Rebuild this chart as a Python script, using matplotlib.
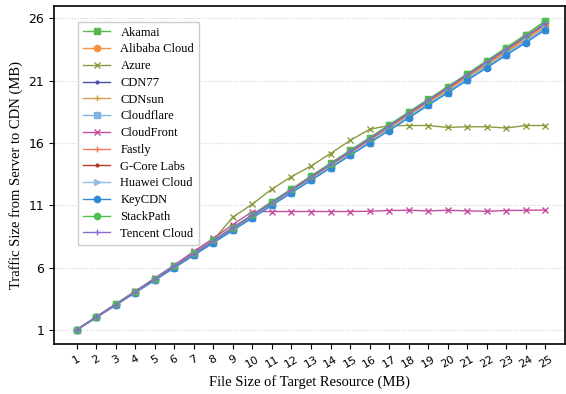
import matplotlib
matplotlib.use("Agg")
import matplotlib.pyplot as plt

file_size = list(range(1, 26))

# values (MB)
akamai = [1.0, 2.02, 3.05, 4.08, 5.1, 6.12, 7.15, 8.2, 9.22, 10.25, 11.3, 12.3, 13.35, 14.37,
          15.4, 16.42, 17.45, 18.48, 19.5, 20.52, 21.55, 22.6, 23.65, 24.7, 25.8]
alibaba = [1.0, 2.0, 3.0, 4.02, 5.03, 6.05, 7.05, 8.08, 9.1, 10.1, 11.12, 12.15, 13.15, 14.17,
           15.2, 16.2, 17.22, 18.25, 19.25, 20.28, 21.3, 22.3, 23.32, 24.35, 25.35]
azure = [1.0, 2.02, 3.05, 4.08, 5.1, 6.12, 7.15, 8.2, 10.05, 11.1, 12.3, 13.3, 14.15, 15.15,
         16.2, 17.1, 17.4, 17.4, 17.4, 17.25, 17.3, 17.3, 17.2, 17.4, 17.4]
cdn77 = [1.0, 2.0, 3.0, 4.0, 5.0, 6.0, 7.0, 8.0, 9.0, 10.02, 11.02, 12.05, 13.05, 14.05,
         15.07, 16.07, 17.08, 18.1, 19.1, 20.1, 21.12, 22.12, 23.15, 24.15, 25.2]
cdnsun = [1.0, 2.0, 3.0, 4.0, 5.02, 6.02, 7.03, 8.05, 9.05, 10.07, 11.08, 12.1, 13.1, 14.12,
          15.13, 16.15, 17.15, 18.18, 19.2, 20.2, 21.22, 22.25, 23.25, 24.28, 25.3]
cloudflare = [1.0, 2.0, 3.0, 4.0, 5.0, 6.0, 7.0, 8.0, 9.0, 10.0, 11.0, 12.02, 13.02, 14.03,
              15.03, 16.03, 17.05, 18.05, 19.05, 20.05, 21.07, 22.07, 23.08, 24.08, 25.1]
cloudfront = [1.0, 2.05, 3.08, 4.1, 5.15, 6.2, 7.3, 8.35, 9.45, 10.5, 10.5, 10.5, 10.5, 10.5,
              10.5, 10.52, 10.58, 10.6, 10.55, 10.6, 10.55, 10.52, 10.58, 10.6, 10.62]
fastly = [1.0, 2.0, 3.02, 4.03, 5.05, 6.07, 7.08, 8.1, 9.12, 10.15, 11.18, 12.2, 13.22, 14.25,
          15.27, 16.28, 17.3, 18.32, 19.35, 20.37, 21.4, 22.42, 23.45, 24.48, 25.5]
gcore = [1.0, 2.0, 3.02, 4.03, 5.05, 6.07, 7.1, 8.12, 9.15, 10.18, 11.2, 12.22, 13.25, 14.28,
         15.3, 16.32, 17.35, 18.38, 19.4, 20.42, 21.45, 22.48, 23.5, 24.52, 25.55]
huawei = [1.0, 2.0, 3.0, 4.0, 5.0, 6.02, 7.02, 8.03, 9.03, 10.05, 11.05, 12.07, 13.07, 14.08,
          15.1, 16.1, 17.1, 18.12, 19.12, 20.13, 21.15, 22.15, 23.17, 24.18, 25.2]
keycdn = [1.0, 2.0, 3.0, 4.0, 5.0, 6.0, 7.0, 8.0, 9.0, 10.0, 11.0, 12.0, 13.0, 14.0,
          15.0, 16.0, 17.0, 18.0, 19.02, 20.02, 21.03, 22.03, 23.05, 24.05, 25.1]
stackpath = [1.0, 2.02, 3.05, 4.07, 5.1, 6.12, 7.15, 8.18, 9.2, 10.22, 11.27, 12.3, 13.33, 14.35,
             15.38, 16.4, 17.42, 18.45, 19.48, 20.5, 21.52, 22.57, 23.62, 24.68, 25.75]
tencent = [1.0, 2.02, 3.03, 4.05, 5.07, 6.1, 7.12, 8.15, 9.18, 10.2, 11.22, 12.25, 13.27, 14.3,
           15.32, 16.35, 17.37, 18.4, 19.42, 20.45, 21.47, 22.5, 23.52, 24.55, 25.6]

series = [
    ("Akamai", akamai, "#55b948", "s", 4.5),
    ("Alibaba Cloud", alibaba, "#f7913d", "o", 4.5),
    ("Azure", azure, "#8c9a3e", "x", 4),
    ("CDN77", cdn77, "#4b4fa8", ".", 4),
    ("CDNsun", cdnsun, "#d0a24a", "+", 4),
    ("Cloudflare", cloudflare, "#80b3e3", "s", 4.5),
    ("CloudFront", cloudfront, "#c44d9e", "x", 4),
    ("Fastly", fastly, "#f07e5a", "+", 4),
    ("G-Core Labs", gcore, "#b83a2e", ".", 4),
    ("Huawei Cloud", huawei, "#92bde6", ">", 4.5),
    ("KeyCDN", keycdn, "#2f8ad6", "o", 4.5),
    ("StackPath", stackpath, "#4dbf4d", "o", 4.5),
    ("Tencent Cloud", tencent, "#8a6bd0", "+", 4),
]

serif = ["Liberation Serif", "DejaVu Serif"]

fig = plt.figure(figsize=(5.66, 3.94), dpi=100)
ax = fig.add_axes([0.095, 0.127, 0.903, 0.858])

for name, vals, color, marker, ms in series:
    ax.plot(file_size, vals, color=color, marker=marker, markersize=ms,
            linewidth=1.0, label=name)

ax.set_xlim(-0.17, 26.0)
ax.set_ylim(-0.13, 27.0)
ax.set_xticks(file_size)
ax.set_xticklabels([str(v) for v in file_size], rotation=30, fontsize=8)
ax.set_yticks([1, 6, 11, 16, 21, 26])
ax.tick_params(axis="y", labelsize=9)
ax.yaxis.grid(True, linestyle=":", color="#c3d5e4", linewidth=0.8)
for sp in ax.spines.values():
    sp.set_linewidth(1.2)

ax.set_xlabel("File Size of Target Resource (MB)", fontsize=10.5, family=serif)
ax.set_ylabel("Traffic Size from Server to CDN (MB)", fontsize=10.5, family=serif)

leg = ax.legend(loc="upper left", bbox_to_anchor=(0.035, 0.972),
                prop={"family": serif, "size": 9}, framealpha=1.0,
                edgecolor="#cccccc", fancybox=False, labelspacing=0.38,
                handlelength=2.2)

fig.savefig("out.png", dpi=100)
